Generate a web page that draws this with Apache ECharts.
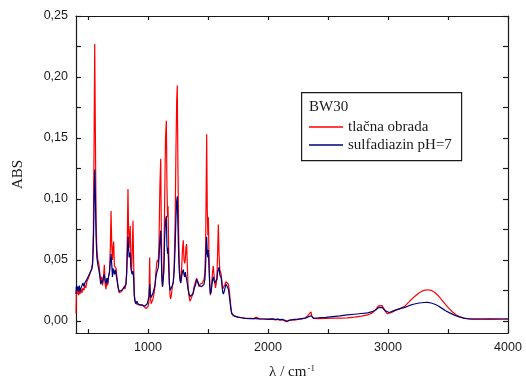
<!DOCTYPE html>
<html>
<head>
<meta charset="utf-8">
<script src="https://cdn.jsdelivr.net/npm/echarts@6/dist/echarts.min.js"></script>
<style>
html,body{margin:0;padding:0;background:#fff;}
#chart{width:526px;height:385px;}
</style>
</head>
<body>
<div id="chart"></div>
<script>
// Wavenumber (cm^-1)
const wavenumbers = [
400,404,410,416,422,428,434,442,450,458,466,474,482,490,500,510,520,530,538,545,
551,556,561,567,574,582,590,598,606,614,621,628,636,643,650,657,664,671,679,686,
692,698,704,709,714,720,727,734,741,750,760,770,780,790,800,808,816,822,828,833,
838,843,848,852,857,863,868,875,880,886,892,900,908,916,924,934,944,954,964,974,
984,994,1002,1008,1014,1019,1026,1034,1042,1050,1058,1066,1074,1080,1086,1092,1099,1106,1111,1116,
1121,1126,1132,1139,1146,1153,1158,1163,1167,1172,1178,1184,1189,1196,1203,1211,1218,1226,1233,1239,
1244,1249,1255,1261,1267,1273,1280,1287,1294,1300,1306,1311,1316,1322,1328,1334,1342,1350,1358,1366,
1374,1382,1390,1398,1405,1411,1418,1425,1433,1440,1447,1454,1461,1467,1474,1480,1485,1489,1494,1499,
1503,1508,1514,1520,1526,1532,1538,1544,1550,1556,1562,1568,1574,1580,1586,1592,1598,1604,1610,1616,
1622,1628,1635,1642,1650,1657,1664,1670,1677,1683,1690,1697,1705,1715,1730,1750,1780,1810,1850,1880,
1900,1910,1930,1960,2000,2040,2060,2080,2100,2120,2140,2160,2180,2200,2220,2250,2280,2310,2330,2345,
2358,2366,2378,2420,2480,2540,2600,2660,2720,2780,2830,2870,2900,2920,2935,2950,2965,2980,2995,3010,
3030,3060,3100,3140,3180,3220,3260,3300,3330,3360,3390,3420,3450,3480,3510,3540,3570,3600,3630,3660,
3700,3750,3800,3850,3900,3950,4000
];
// BW30 – tlačna obrada (red)
const tlacnaObrada = [
0.006,0.028,0.022,0.027,0.021,0.025,0.022,0.026,0.023,0.027,0.025,0.029,0.027,0.032,0.034,0.037,0.040,0.042,0.048,0.075,
0.150,0.227,0.160,0.085,0.058,0.050,0.047,0.040,0.032,0.036,0.029,0.034,0.046,0.030,0.026,0.032,0.029,0.036,0.040,0.060,
0.090,0.062,0.050,0.060,0.065,0.045,0.044,0.043,0.036,0.028,0.023,0.023,0.024,0.025,0.028,0.026,0.030,0.040,0.070,0.108,
0.075,0.060,0.070,0.078,0.052,0.041,0.055,0.082,0.050,0.022,0.016,0.014,0.014,0.013,0.013,0.012,0.013,0.012,0.012,0.011,
0.010,0.011,0.012,0.016,0.052,0.020,0.014,0.015,0.018,0.022,0.028,0.040,0.048,0.050,0.048,0.065,0.110,0.133,0.075,0.038,
0.028,0.027,0.045,0.100,0.150,0.164,0.110,0.085,0.094,0.060,0.032,0.020,0.018,0.022,0.028,0.032,0.045,0.080,0.140,0.180,
0.193,0.130,0.075,0.045,0.035,0.032,0.042,0.058,0.066,0.050,0.047,0.050,0.060,0.063,0.045,0.028,0.020,0.016,0.015,0.017,
0.022,0.027,0.030,0.031,0.035,0.036,0.031,0.028,0.030,0.031,0.030,0.031,0.032,0.034,0.040,0.060,0.110,0.153,0.090,0.070,
0.085,0.055,0.030,0.021,0.025,0.032,0.040,0.045,0.038,0.032,0.027,0.026,0.034,0.055,0.079,0.055,0.042,0.040,0.038,0.032,
0.026,0.025,0.027,0.030,0.032,0.0335,0.033,0.030,0.025,0.019,0.012,0.007,0.005,0.004,0.0035,0.003,0.0025,0.002,0.002,0.0018,
0.003,0.0025,0.0015,0.0015,0.0012,0.0014,0.0008,0.0012,0.0006,0.0010,-0.0002,-0.0006,0.0004,0.0010,0.0006,0.0012,0.0015,0.0022,0.0040,0.0050,
0.0074,0.0040,0.0020,0.0018,0.0020,0.0022,0.0022,0.0024,0.0030,0.0038,0.0048,0.0065,0.0095,0.0122,0.0136,0.0125,0.0100,0.0075,0.0058,0.0056,
0.0068,0.0085,0.0100,0.0120,0.0160,0.0198,0.0230,0.0250,0.0255,0.0250,0.0232,0.0205,0.0170,0.0133,0.0100,0.0070,0.0048,0.0032,0.0023,0.0017,
0.0014,0.0015,0.0013,0.0016,0.0014,0.0015,0.0015
];
// BW30 – sulfadiazin pH=7 (navy)
const sulfadiazin = [
0.022,0.029,0.025,0.028,0.024,0.029,0.024,0.027,0.026,0.031,0.028,0.031,0.030,0.034,0.036,0.038,0.040,0.042,0.046,0.062,
0.098,0.124,0.105,0.070,0.052,0.046,0.042,0.037,0.030,0.033,0.031,0.036,0.038,0.033,0.030,0.035,0.031,0.036,0.040,0.048,
0.055,0.046,0.036,0.043,0.042,0.038,0.042,0.041,0.034,0.028,0.024,0.025,0.025,0.026,0.027,0.027,0.030,0.038,0.055,0.069,
0.060,0.052,0.054,0.056,0.044,0.040,0.038,0.041,0.035,0.020,0.016,0.014,0.016,0.014,0.015,0.013,0.014,0.013,0.013,0.012,
0.012,0.014,0.015,0.020,0.030,0.022,0.019,0.021,0.023,0.026,0.029,0.036,0.040,0.042,0.044,0.052,0.066,0.074,0.052,0.034,
0.028,0.027,0.040,0.068,0.082,0.086,0.062,0.055,0.060,0.045,0.030,0.025,0.024,0.026,0.029,0.032,0.040,0.060,0.085,0.098,
0.102,0.080,0.055,0.040,0.033,0.031,0.036,0.040,0.042,0.038,0.036,0.040,0.037,0.034,0.030,0.026,0.022,0.020,0.019,0.020,
0.022,0.025,0.028,0.030,0.034,0.035,0.031,0.029,0.030,0.029,0.028,0.028,0.029,0.030,0.034,0.045,0.060,0.069,0.055,0.052,
0.058,0.045,0.030,0.022,0.024,0.029,0.034,0.036,0.033,0.031,0.030,0.030,0.034,0.040,0.042,0.044,0.038,0.037,0.035,0.030,
0.024,0.022,0.024,0.027,0.030,0.031,0.030,0.026,0.021,0.016,0.010,0.006,0.0045,0.004,0.0035,0.003,0.0025,0.002,0.0018,0.0018,
0.0018,0.0017,0.0016,0.0015,0.0014,0.0016,0.0012,0.0014,0.0010,0.0012,0.0005,-0.0004,0.0006,0.0008,0.0012,0.0014,0.0018,0.0022,0.0030,0.0035,
0.0042,0.0030,0.0022,0.0024,0.0028,0.0034,0.0040,0.0048,0.0054,0.0060,0.0065,0.0075,0.0090,0.0108,0.0118,0.0110,0.0095,0.0080,0.0070,0.0068,
0.0075,0.0088,0.0100,0.0110,0.0126,0.0138,0.0146,0.0150,0.0151,0.0146,0.0136,0.0121,0.0102,0.0083,0.0067,0.0053,0.0040,0.0030,0.0022,0.0018,
0.0015,0.0015,0.0015,0.0015,0.0015,0.0015,0.0015
];
const xMajorTicks = [1000, 2000, 3000, 4000];
const xAllTicks = [500, 1000, 1500, 2000, 2500, 3000, 3500, 4000];
const yLabelTicks = [0, 0.05, 0.10, 0.15, 0.20, 0.25];
const yAllTicks = [0, 0.025, 0.05, 0.075, 0.10, 0.125, 0.15, 0.175, 0.20, 0.225, 0.25];
const seriesNames = ['tlačna obrada', 'sulfadiazin pH=7'];
const legendTitle = 'BW30';

const SERIF = '"Liberation Serif","Times New Roman",serif';
const SANS = '"Liberation Sans",Arial,sans-serif';
const axisLineStyle = {color: '#1a1a1a', width: 1.2};

const chart = echarts.init(document.getElementById('chart'), null, {renderer: 'canvas'});
const pair = arr => wavenumbers.map((x, i) => [x, arr[i]]);

chart.setOption({
  animation: false,
  backgroundColor: '#fff',
  grid: {left: 76, right: 18, top: 16, bottom: 51},
  xAxis: [
    {
      type: 'value', min: 400, max: 4000, position: 'bottom',
      axisLine: {show: true, onZero: false, lineStyle: axisLineStyle},
      axisTick: {show: true, inside: true, length: 4, customValues: xAllTicks, lineStyle: axisLineStyle},
      axisLabel: {customValues: xMajorTicks, fontFamily: SANS, fontSize: 12.5, color: '#1a1a1a', margin: 8,
                  formatter: v => String(v)},
      splitLine: {show: false},
      name: '{a|λ / cm}{s|-1}', nameLocation: 'middle', nameGap: 31,
      nameTextStyle: {rich: {a: {fontFamily: SERIF, fontSize: 15, color: '#1a1a1a'},
                             s: {fontFamily: SERIF, fontSize: 9, color: '#1a1a1a', verticalAlign: 'top', padding: [0,0,8,1]}}}
    },
    {
      type: 'value', min: 400, max: 4000, position: 'top',
      axisLine: {show: true, onZero: false, lineStyle: axisLineStyle},
      axisTick: {show: true, inside: true, length: 4, customValues: xAllTicks, lineStyle: axisLineStyle},
      axisLabel: {show: false}, splitLine: {show: false}
    }
  ],
  yAxis: [
    {
      type: 'value', min: -0.01, max: 0.25, position: 'left',
      axisLine: {show: true, onZero: false, lineStyle: axisLineStyle},
      axisTick: {show: true, inside: true, length: 5, customValues: yAllTicks, lineStyle: axisLineStyle},
      axisLabel: {customValues: yLabelTicks, fontFamily: SANS, fontSize: 12.5, color: '#1a1a1a', margin: 8,
                  formatter: v => v.toFixed(2).replace('.', ',')},
      splitLine: {show: false},
      name: 'ABS', nameLocation: 'middle', nameGap: 50, nameRotate: 90,
      nameTextStyle: {fontFamily: SERIF, fontSize: 15, color: '#1a1a1a'}
    },
    {
      type: 'value', min: -0.01, max: 0.25, position: 'right',
      axisLine: {show: true, onZero: false, lineStyle: axisLineStyle},
      axisTick: {show: true, inside: true, length: 5, customValues: yAllTicks, lineStyle: axisLineStyle},
      axisLabel: {show: false}, splitLine: {show: false}
    }
  ],
  legend: {
    orient: 'vertical', left: 309, top: 118, padding: 0, itemGap: 0,
    itemWidth: 34, itemHeight: 1.5, icon: 'rect',
    textStyle: {fontFamily: SERIF, fontSize: 15, color: '#1a1a1a', lineHeight: 18},
    data: seriesNames, z: 10
  },
  graphic: [
    {type: 'rect', left: 301, top: 92, z: 5,
     shape: {width: 160, height: 68}, style: {fill: '#fff', stroke: '#1a1a1a', lineWidth: 1.2}},
    {type: 'text', left: 309, top: 100, z: 6,
     style: {text: legendTitle, fontFamily: SERIF, fontSize: 15, fill: '#1a1a1a'}}
  ],
  series: [
    {name: seriesNames[0], type: 'line', data: pair(tlacnaObrada), symbol: 'none', showSymbol: false,
     lineStyle: {color: '#ff0000', width: 1.2}, itemStyle: {color: '#ff0000'}, xAxisIndex: 0, yAxisIndex: 0, z: 2},
    {name: seriesNames[1], type: 'line', data: pair(sulfadiazin), symbol: 'none', showSymbol: false,
     lineStyle: {color: '#00007f', width: 1.2}, itemStyle: {color: '#00007f'}, xAxisIndex: 0, yAxisIndex: 0, z: 3}
  ]
});
</script>
</body>
</html>
